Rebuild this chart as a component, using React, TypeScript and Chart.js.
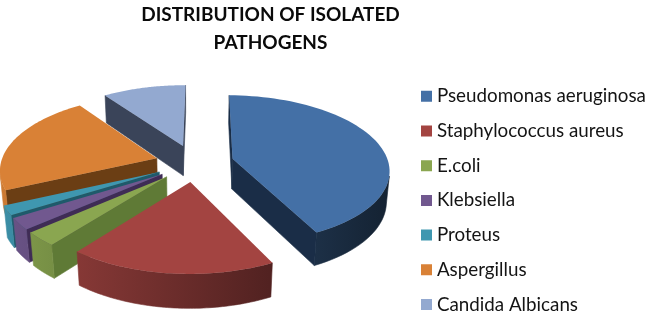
import React, { useEffect, useRef } from "react";
import { Chart, registerables } from "chart.js";

Chart.register(...registerables);

const categories = ["Pseudomonas aeruginosa", "Staphylococcus aureus", "E.coli", "Klebsiella", "Proteus", "Aspergillus", "Candida Albicans"];
const shares = [42.5, 18, 3, 2.5, 2, 22, 10];
const faceColors = ["#4470a6", "#a34441", "#8aa650", "#71588f", "#3f97b0", "#d98136", "#93a9d0"];
const innerWallColors = ["#1a2d47", "#6e2c2a", "#5f7a36", "#3f2c55", "#1f5a6b", "#6b3e14", "#3a4459"];
const titleLines = ["DISTRIBUTION OF ISOLATED", "PATHOGENS"];

const VIEW = { cx: 194.5, cy: 163, planeRadius: 156, tilt: 0.49, distance: 1000, height: 35 };

function project(X: number, Y: number, Z: number) {
  const sin = Math.sin(VIEW.tilt);
  const cos = Math.cos(VIEW.tilt);
  const s = VIEW.distance / (VIEW.distance - Y * cos - Z * sin);
  return { x: VIEW.cx + X * s, y: VIEW.cy + (Y * sin - Z * cos) * s };
}

function rgb(hex: string) {
  return [1, 3, 5].map((i) => parseInt(hex.slice(i, i + 2), 16));
}

function shade(hex: string, f: number) {
  const [r, g, b] = rgb(hex);
  return `rgb(${Math.round(r * f)},${Math.round(g * f)},${Math.round(b * f)})`;
}

function fillPolygon(ctx: any, pts: { x: number; y: number }[], style: any) {
  ctx.fillStyle = style;
  ctx.strokeStyle = style;
  ctx.lineWidth = 0.6;
  ctx.beginPath();
  pts.forEach((p, n) => (n ? ctx.lineTo(p.x, p.y) : ctx.moveTo(p.x, p.y)));
  ctx.closePath();
  ctx.fill();
  ctx.stroke();
}

const pie3d = {
  id: "pie3d",
  afterLayout(chart: any) {
    chart.titleBlock.left = 0;
    chart.titleBlock.right = 541;
    chart.legend.left = 409.6;
    chart.legend.top = 71;
    chart.legend.bottom = 420;
  },
  beforeDatasetsDraw(chart: any) {
    const ctx = chart.ctx;
    const arcs = chart.getDatasetMeta(0).data;
    const order = arcs
      .map((arc: any, i: number) => ({ arc, i, mid: (arc.startAngle + arc.endAngle) / 2 }))
      .sort((a: any, b: any) => Math.sin(a.mid) - Math.sin(b.mid));
    for (const { arc, i, mid } of order) {
      const scale = VIEW.planeRadius / arc.outerRadius;
      const offset = arc.options.offset * scale;
      const ox = Math.cos(mid) * offset;
      const oy = Math.sin(mid) * offset;
      const flat: { X: number; Y: number; rim: boolean }[] = [{ X: ox, Y: oy, rim: false }];
      const steps = 64;
      for (let k = 0; k <= steps; k++) {
        const a = arc.startAngle + ((arc.endAngle - arc.startAngle) * k) / steps;
        flat.push({ X: ox + VIEW.planeRadius * Math.cos(a), Y: oy + VIEW.planeRadius * Math.sin(a), rim: true });
      }
      const color = arc.options.backgroundColor;
      const gradient = ctx.createLinearGradient(0, 0, 390, 0);
      gradient.addColorStop(0, shade(color, 0.95));
      gradient.addColorStop(1, shade(color, 0.3));
      let runTop: { x: number; y: number }[] = [];
      let runBottom: { x: number; y: number }[] = [];
      const flush = () => {
        if (runTop.length) fillPolygon(ctx, [...runTop, ...runBottom.reverse()], gradient);
        runTop = [];
        runBottom = [];
      };
      for (let k = 0; k < flat.length; k++) {
        const a = flat[k];
        const b = flat[(k + 1) % flat.length];
        const p1 = project(a.X, a.Y, 0);
        const p2 = project(b.X, b.Y, 0);
        const q2 = project(b.X, b.Y, -VIEW.height);
        const q1 = project(a.X, a.Y, -VIEW.height);
        const pts = [p1, p2, q2, q1];
        let area = 0;
        pts.forEach((p, n) => {
          const t = pts[(n + 1) % 4];
          area += p.x * t.y - t.x * p.y;
        });
        if (area >= 0) {
          flush();
          continue;
        }
        if (a.rim && b.rim) {
          if (!runTop.length) {
            runTop.push(p1);
            runBottom.push(q1);
          }
          runTop.push(p2);
          runBottom.push(q2);
        } else {
          flush();
          fillPolygon(ctx, pts, innerWallColors[i]);
        }
      }
      flush();
      ctx.fillStyle = color;
      ctx.beginPath();
      flat.forEach((f, n) => {
        const p = project(f.X, f.Y, 0);
        if (n) ctx.lineTo(p.x, p.y);
        else ctx.moveTo(p.x, p.y);
      });
      ctx.closePath();
      ctx.fill();
    }
    return false;
  },
};

export default function App() {
  const ref = useRef<HTMLCanvasElement>(null);
  useEffect(() => {
    document.body.style.margin = "0";
    const chart = new Chart(ref.current as HTMLCanvasElement, {
      type: "pie",
      data: {
        labels: categories,
        datasets: [{ data: shares, backgroundColor: faceColors, borderWidth: 0, offset: 28 }],
      },
      options: {
        responsive: false,
        animation: false,
        rotation: 0.5,
        layout: { padding: 0 },
        plugins: {
          tooltip: { enabled: false },
          title: {
            display: true,
            text: titleLines,
            color: "#0a0a0a",
            font: { family: "Lato", weight: "bold", size: 19, lineHeight: 1.47 },
            padding: { top: 1, bottom: 9 },
          },
          legend: {
            position: "right",
            align: "start",
            labels: {
              color: "#141414",
              font: { family: "Lato", size: 18.8 },
              boxWidth: 2,
              boxHeight: 2,
              padding: 15.9,
              generateLabels(c: any) {
                return (Chart as any).overrides.pie.plugins.legend.labels
                  .generateLabels(c)
                  .map((item: any) => ({ ...item, lineWidth: 9, strokeStyle: item.fillStyle }));
              },
            },
          },
        },
      } as any,
      plugins: [pie3d],
    });
    return () => chart.destroy();
  }, []);
  return (
    <div style={{ width: 646, height: 316 }}>
      <canvas ref={ref} width={646} height={316} style={{ display: "block" }} />
    </div>
  );
}
